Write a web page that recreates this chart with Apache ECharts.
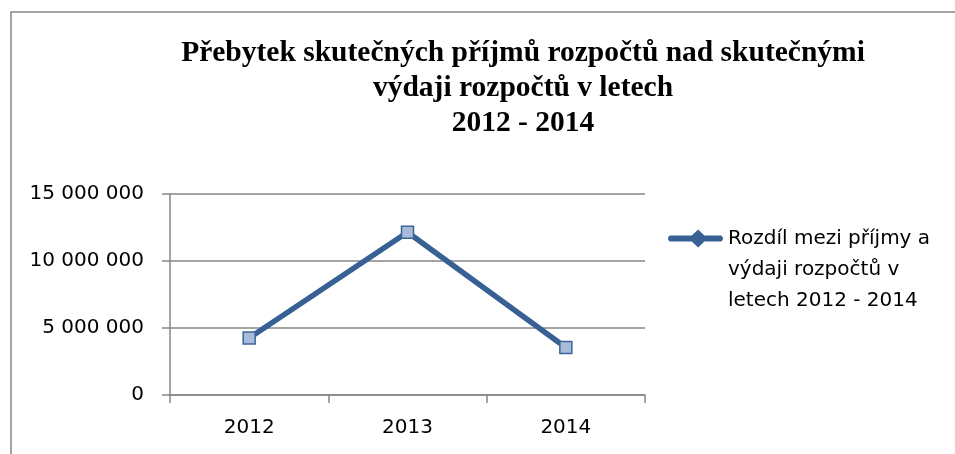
<!DOCTYPE html>
<html>
<head>
<meta charset="utf-8">
<script src="https://cdn.jsdelivr.net/npm/echarts@6/dist/echarts.min.js"></script>
<style>
  html, body { margin: 0; padding: 0; background: #fff; }
  #main { width: 955px; height: 454px; }
</style>
</head>
<body>
<div id="main"></div>
<script>
// data
var years = ["2012", "2013", "2014"];
var rozdil = [4250000, 12150000, 3550000];
var seriesName = "Rozdíl mezi příjmy a výdaji rozpočtů v letech 2012 - 2014";

var myChart = echarts.init(document.getElementById("main"));

function fmt(v) {
  return String(v).replace(/\B(?=(\d{3})+(?!\d))/g, " ");
}

// legend icon: thick line with a diamond in the middle, one outline (55 x 18 box)
var legendIcon = "path://M3,6 L24,6 L30,0 L36,6 L52,6 Q55,9 52,12 L36,12 L30,18 L24,12 L3,12 Q0,9 3,6 Z";

var option = {
  animation: false,
  graphic: [
    {
      type: "rect",
      shape: { x: 11, y: 12, width: 960, height: 460 },
      style: { fill: "none", stroke: "#868686", lineWidth: 1.5 }
    }
  ],
  title: {
    text: "Přebytek skutečných příjmů rozpočtů nad skutečnými\nvýdaji rozpočtů v letech\n2012 - 2014",
    left: 518,
    top: 31,
    textAlign: "center",
    textStyle: {
      fontFamily: "Liberation Serif",
      fontWeight: "bold",
      fontSize: 29.5,
      lineHeight: 35,
      color: "#000"
    }
  },
  legend: {
    orient: "vertical",
    left: 663,
    top: 156,
    itemWidth: 55,
    itemHeight: 18,
    itemGap: 0,
    icon: legendIcon,
    symbolKeepAspect: false,
    itemStyle: { color: "#386094", borderWidth: 0 },
    formatter: function () {
      // two empty lines first, so the icon sits by the first text line
      return "\n\nRozdíl mezi příjmy a\nvýdaji rozpočtů v\nletech 2012 - 2014";
    },
    textStyle: {
      fontFamily: "DejaVu Sans",
      fontSize: 20,
      lineHeight: 31,
      color: "#000"
    }
  },
  grid: { left: 170, right: 310, top: 194, bottom: 59 },
  xAxis: {
    type: "category",
    data: years,
    axisLine: { lineStyle: { color: "#868686", width: 1.5 } },
    axisTick: { show: true, length: 8, inside: false, lineStyle: { color: "#868686", width: 1.5 } },
    axisLabel: { fontFamily: "DejaVu Sans", fontSize: 20, color: "#000", margin: 23 }
  },
  yAxis: {
    type: "value",
    min: 0,
    max: 15000000,
    interval: 5000000,
    axisLine: { show: true, lineStyle: { color: "#868686", width: 1.5 } },
    axisTick: { show: true, length: 8, lineStyle: { color: "#868686", width: 1.5 } },
    splitLine: { lineStyle: { color: "#868686", width: 1.5 } },
    axisLabel: {
      fontFamily: "DejaVu Sans",
      fontSize: 20,
      color: "#000",
      margin: 26,
      formatter: fmt
    }
  },
  series: [
    {
      name: seriesName,
      type: "line",
      data: rozdil,
      symbol: "rect",
      symbolSize: 12,
      lineStyle: { color: "#386094", width: 5.5 },
      itemStyle: { color: "#a9bbdb", borderColor: "#3d6598", borderWidth: 1.5 }
    }
  ]
};

myChart.setOption(option);
</script>
</body>
</html>
